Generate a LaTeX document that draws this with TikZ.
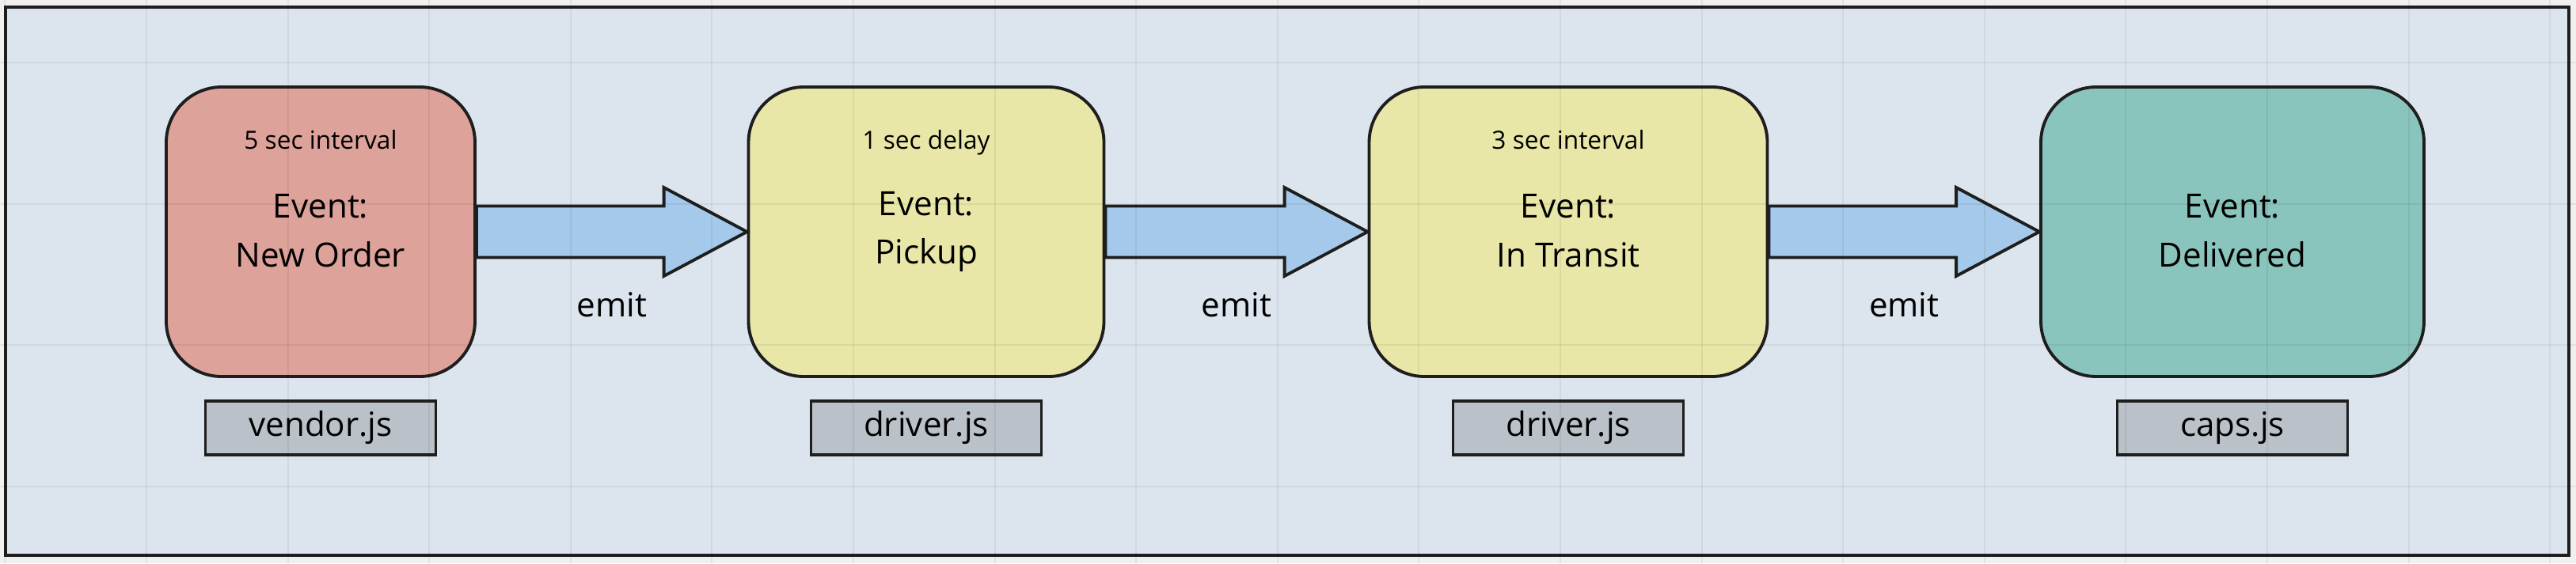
\documentclass[tikz,border=0pt]{standalone}
\usepackage{fontspec}
\setmainfont{Open Sans}
\usetikzlibrary{positioning,calc}
\definecolor{outerbg}{HTML}{F0F0F0}
\definecolor{framebg}{HTML}{DCE5EE}
\definecolor{ink}{HTML}{1E1E1E}
\definecolor{neworder}{HTML}{DDA29A}
\definecolor{pickup}{HTML}{E8E7A7}
\definecolor{delivered}{HTML}{8AC5BD}
\definecolor{arrowblue}{HTML}{A4C9EA}
\definecolor{filegray}{HTML}{BAC1C8}
\begin{document}
\begin{tikzpicture}[
        event/.style={draw=ink, line width=1.1pt, rounded corners=0.7cm, minimum height=3.66cm, align=center, inner sep=0pt, font=\fontsize{12}{17.6}\selectfont, execute at begin node=\rule{0pt}{14pt}, execute at end node=\rule[-1pt]{0pt}{0pt}},
        note/.style={inner sep=0pt, text height=6.6pt, text depth=2.2pt, font=\fontsize{9}{11}\selectfont},
        file/.style={draw=ink, line width=1.1pt, fill=filegray, minimum width=2.91cm, minimum height=0.68cm, inner sep=0pt, text height=8.8pt, text depth=3pt, font=\fontsize{12}{14}\selectfont},
        emitlbl/.style={inner sep=0pt, font=\fontsize{12}{14}\selectfont},
        fat/.style={draw=ink, line width=1.1pt, fill=arrowblue, line join=miter},
        gridline/.style={black, opacity=0.06, line width=0.02cm}
    ]
        \useasboundingbox (0,0) rectangle (32.54,7.12);
        \fill[outerbg] (0,0) rectangle (32.54,7.12);
        \draw[draw=ink, line width=1.1pt, fill=framebg] (0.07,0.10) rectangle (32.45,7.03);

        \node[event, fill=neworder, minimum width=3.90cm] (order) at (4.05,4.19) {Event:\\New Order};
        \node[event, fill=pickup, minimum width=4.49cm] (pickup) at (11.70,4.19) {Event:\\Pickup};
        \node[event, fill=pickup, minimum width=5.03cm] (transit) at (19.81,4.19) {Event:\\In Transit};
        \node[event, fill=delivered, minimum width=4.84cm] (delivered) at (28.20,4.19) {Event:\\Delivered};

        \node[note] (orderdelay) at ($(order.north)+(0,-0.73)$) {5 sec interval};
        \node[note] (pickupdelay) at ($(pickup.north)+(0,-0.73)$) {1 sec delay};
        \node[note] (transitdelay) at ($(transit.north)+(0,-0.73)$) {3 sec interval};

        \node[file, below=0.27 of order] (vendor) {vendor.js};
        \node[file, below=0.27 of pickup] (driverpickup) {driver.js};
        \node[file, below=0.27 of transit] (drivertransit) {driver.js};
        \node[file, below=0.27 of delivered] (caps) {caps.js};

        \draw[fat] ($(order.east)+(0,0.325)$) -- ($(pickup.west)+(-1.05,0.325)$) -- ($(pickup.west)+(-1.05,0.56)$) -- (pickup.west) -- ($(pickup.west)+(-1.05,-0.56)$) -- ($(pickup.west)+(-1.05,-0.325)$) -- ($(order.east)+(0,-0.325)$) -- cycle;
        \draw[fat] ($(pickup.east)+(0,0.325)$) -- ($(transit.west)+(-1.05,0.325)$) -- ($(transit.west)+(-1.05,0.56)$) -- (transit.west) -- ($(transit.west)+(-1.05,-0.56)$) -- ($(transit.west)+(-1.05,-0.325)$) -- ($(pickup.east)+(0,-0.325)$) -- cycle;
        \draw[fat] ($(transit.east)+(0,0.325)$) -- ($(delivered.west)+(-1.05,0.325)$) -- ($(delivered.west)+(-1.05,0.56)$) -- (delivered.west) -- ($(delivered.west)+(-1.05,-0.56)$) -- ($(delivered.west)+(-1.05,-0.325)$) -- ($(transit.east)+(0,-0.325)$) -- cycle;

        \node[emitlbl] (emitpickup) at ($(order.east)!0.5!(pickup.west)+(0,-0.92)$) {emit};
        \node[emitlbl] (emittransit) at ($(pickup.east)!0.5!(transit.west)+(0,-0.92)$) {emit};
        \node[emitlbl] (emitdelivered) at ($(transit.east)!0.5!(delivered.west)+(0,-0.92)$) {emit};

        \foreach \gx in {0,...,18}
            \draw[gridline] (0.064+1.786*\gx,0) -- (0.064+1.786*\gx,7.12);
        \foreach \gy in {0,...,3}
            \draw[gridline] (0,0.97+1.786*\gy) -- (32.54,0.97+1.786*\gy);

    \end{tikzpicture}
\end{document}
